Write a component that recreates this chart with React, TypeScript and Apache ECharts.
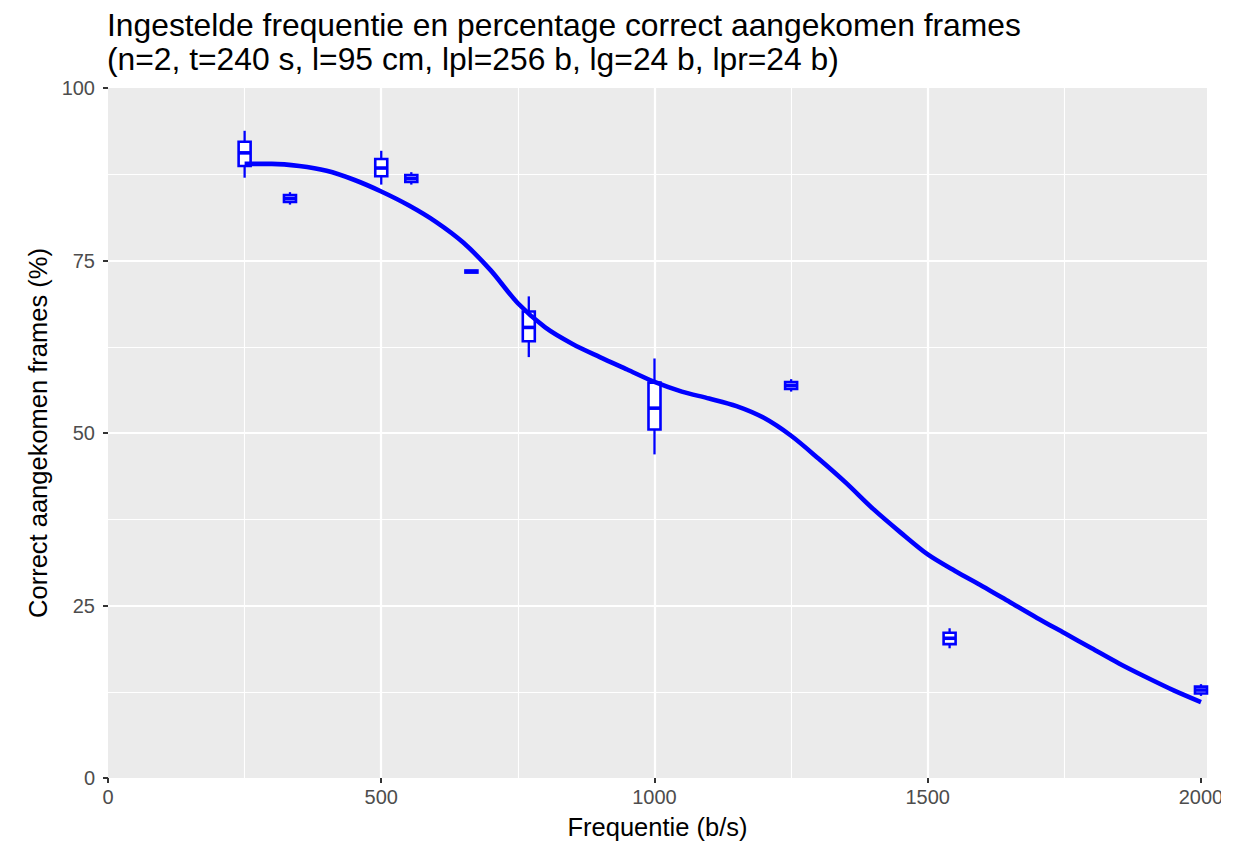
import { useEffect, useRef } from 'react';
import * as echarts from 'echarts';

// Title lines
const titleLines = [
  'Ingestelde frequentie en percentage correct aangekomen frames',
  '(n=2, t=240 s, l=95 cm, lpl=256 b, lg=24 b, lpr=24 b)',
];

// Box plot summaries per configured frequency (b/s)
const boxFreq = [250, 333, 500, 555, 665, 770, 1000, 1250, 1540, 2000];
const boxLow = [87.0, 83.1, 86.0, 86.0, 73.25, 61.0, 46.9, 56.0, 18.8, 11.9];
const boxQ1 = [88.7, 83.5, 87.2, 86.4, 73.25, 63.3, 50.5, 56.4, 19.4, 12.25];
const boxMedian = [90.6, 84.0, 88.4, 86.9, 73.4, 65.3, 53.6, 56.9, 20.25, 12.75];
const boxQ3 = [92.2, 84.5, 89.7, 87.4, 73.55, 67.6, 57.3, 57.4, 21.06, 13.25];
const boxHigh = [93.8, 84.9, 90.9, 87.8, 73.55, 69.8, 60.8, 57.8, 21.7, 13.6];

// Smoothed trend
const smoothX = [
  250, 300, 350, 400, 450, 500, 550, 600, 650, 700, 750, 800, 850, 900, 950, 1000,
  1050, 1100, 1150, 1200, 1250, 1300, 1350, 1400, 1450, 1500, 1550, 1600, 1650,
  1700, 1750, 1800, 1850, 1900, 1950, 2000,
];
const smoothY = [
  89.0, 89.0, 88.7, 88.0, 86.7, 85.0, 83.0, 80.6, 77.6, 73.6, 68.8, 65.3, 62.9, 61.0,
  59.2, 57.4, 56.0, 55.0, 53.9, 52.2, 49.6, 46.3, 42.8, 39.0, 35.6, 32.4, 30.0, 27.8,
  25.5, 23.2, 21.0, 18.8, 16.6, 14.6, 12.7, 11.0,
];

// Axis ticks
const xTicks = [0, 500, 1000, 1500, 2000];
const yTicks = [0, 25, 50, 75, 100];

const BLUE = '#0000FF';
const FONT = '"Liberation Sans", Arial, Helvetica, sans-serif';

export default function App() {
  const ref = useRef<HTMLDivElement>(null);

  useEffect(() => {
    if (!ref.current) return;
    const chart = echarts.init(ref.current, undefined, { renderer: 'svg' });

    const boxData = boxFreq.map((f, i) => [
      f,
      boxLow[i],
      boxQ1[i],
      boxMedian[i],
      boxQ3[i],
      boxHigh[i],
    ]);
    const lineData = smoothX.map((x, i) => [x, smoothY[i]]);

    chart.setOption({
      animation: false,
      textStyle: { fontFamily: FONT },
      title: {
        text: titleLines.join('\n'),
        left: 107,
        top: 8,
        padding: 0,
        textStyle: {
          fontFamily: FONT,
          fontSize: 31.8,
          fontWeight: 'normal',
          color: '#000',
          lineHeight: 34,
        },
      },
      grid: {
        left: 108,
        right: 52,
        top: 88,
        bottom: 70,
        show: true,
        backgroundColor: '#EBEBEB',
        borderWidth: 0,
      },
      xAxis: {
        type: 'value',
        min: 0,
        max: 2011,
        interval: 500,
        name: 'Frequentie (b/s)',
        nameLocation: 'middle',
        nameGap: 36,
        nameTextStyle: { fontFamily: FONT, fontSize: 25.5, color: '#000' },
        axisLine: { show: false },
        axisTick: {
          show: true,
          length: 5,
          customValues: xTicks,
          lineStyle: { color: '#333333', width: 2 },
        },
        axisLabel: {
          customValues: xTicks,
          fontSize: 20,
          color: '#4D4D4D',
          margin: 9,
          formatter: (v: number) => (xTicks.includes(v) ? String(v) : ''),
        },
        splitLine: {
          show: true,
          showMinLine: false,
          showMaxLine: false,
          lineStyle: { color: '#FFFFFF', width: 2.2 },
        },
        minorTick: { show: false, splitNumber: 2 },
        minorSplitLine: { show: true, lineStyle: { color: '#FFFFFF', width: 1.1 } },
      },
      yAxis: {
        type: 'value',
        min: 0,
        max: 100,
        interval: 25,
        name: 'Correct aangekomen frames (%)',
        nameLocation: 'middle',
        nameGap: 57,
        nameTextStyle: { fontFamily: FONT, fontSize: 25.5, color: '#000' },
        axisLine: { show: false },
        axisTick: {
          show: true,
          length: 5,
          customValues: yTicks,
          lineStyle: { color: '#333333', width: 2 },
        },
        axisLabel: { fontSize: 20, color: '#4D4D4D', margin: 13 },
        splitLine: {
          show: true,
          showMinLine: false,
          showMaxLine: false,
          lineStyle: { color: '#FFFFFF', width: 2.2 },
        },
        minorTick: { show: false, splitNumber: 2 },
        minorSplitLine: { show: true, lineStyle: { color: '#FFFFFF', width: 1.1 } },
      },
      graphic: [
        {
          type: 'rect',
          left: 1221,
          top: 0,
          z: 100,
          shape: { width: 38, height: 848 },
          style: { fill: '#FFFFFF' },
        },
      ],
      series: [
        {
          type: 'custom',
          data: boxData,
          encode: { x: 0, y: [1, 2, 3, 4, 5] },
          z: 2,
          renderItem: (_params: any, api: any) => {
            const x = api.value(0);
            const lowPt = api.coord([x, api.value(1)]);
            const cx = lowPt[0];
            const yLow = lowPt[1];
            const yQ1 = api.coord([x, api.value(2)])[1];
            const yMed = api.coord([x, api.value(3)])[1];
            const yQ3 = api.coord([x, api.value(4)])[1];
            const yHigh = api.coord([x, api.value(5)])[1];
            const half = 6;
            return {
              type: 'group',
              children: [
                {
                  type: 'line',
                  shape: { x1: cx, y1: yHigh, x2: cx, y2: yQ3 },
                  style: { stroke: BLUE, lineWidth: 2.3 },
                },
                {
                  type: 'line',
                  shape: { x1: cx, y1: yQ1, x2: cx, y2: yLow },
                  style: { stroke: BLUE, lineWidth: 2.3 },
                },
                {
                  type: 'rect',
                  shape: { x: cx - half, y: yQ3, width: half * 2, height: yQ1 - yQ3 },
                  style: { fill: '#FFFFFF', stroke: BLUE, lineWidth: 2.6 },
                },
                {
                  type: 'line',
                  shape: { x1: cx - half, y1: yMed, x2: cx + half, y2: yMed },
                  style: { stroke: BLUE, lineWidth: 3.6 },
                },
              ],
            };
          },
        },
        {
          type: 'line',
          data: lineData,
          smooth: 0.3,
          showSymbol: false,
          symbol: 'none',
          z: 3,
          lineStyle: { color: BLUE, width: 4.6 },
          itemStyle: { color: BLUE },
        },
      ],
    });

    return () => chart.dispose();
  }, []);

  return (
    <div
      ref={ref}
      style={{ position: 'absolute', left: 0, top: 0, width: 1259, height: 848 }}
    />
  );
}
